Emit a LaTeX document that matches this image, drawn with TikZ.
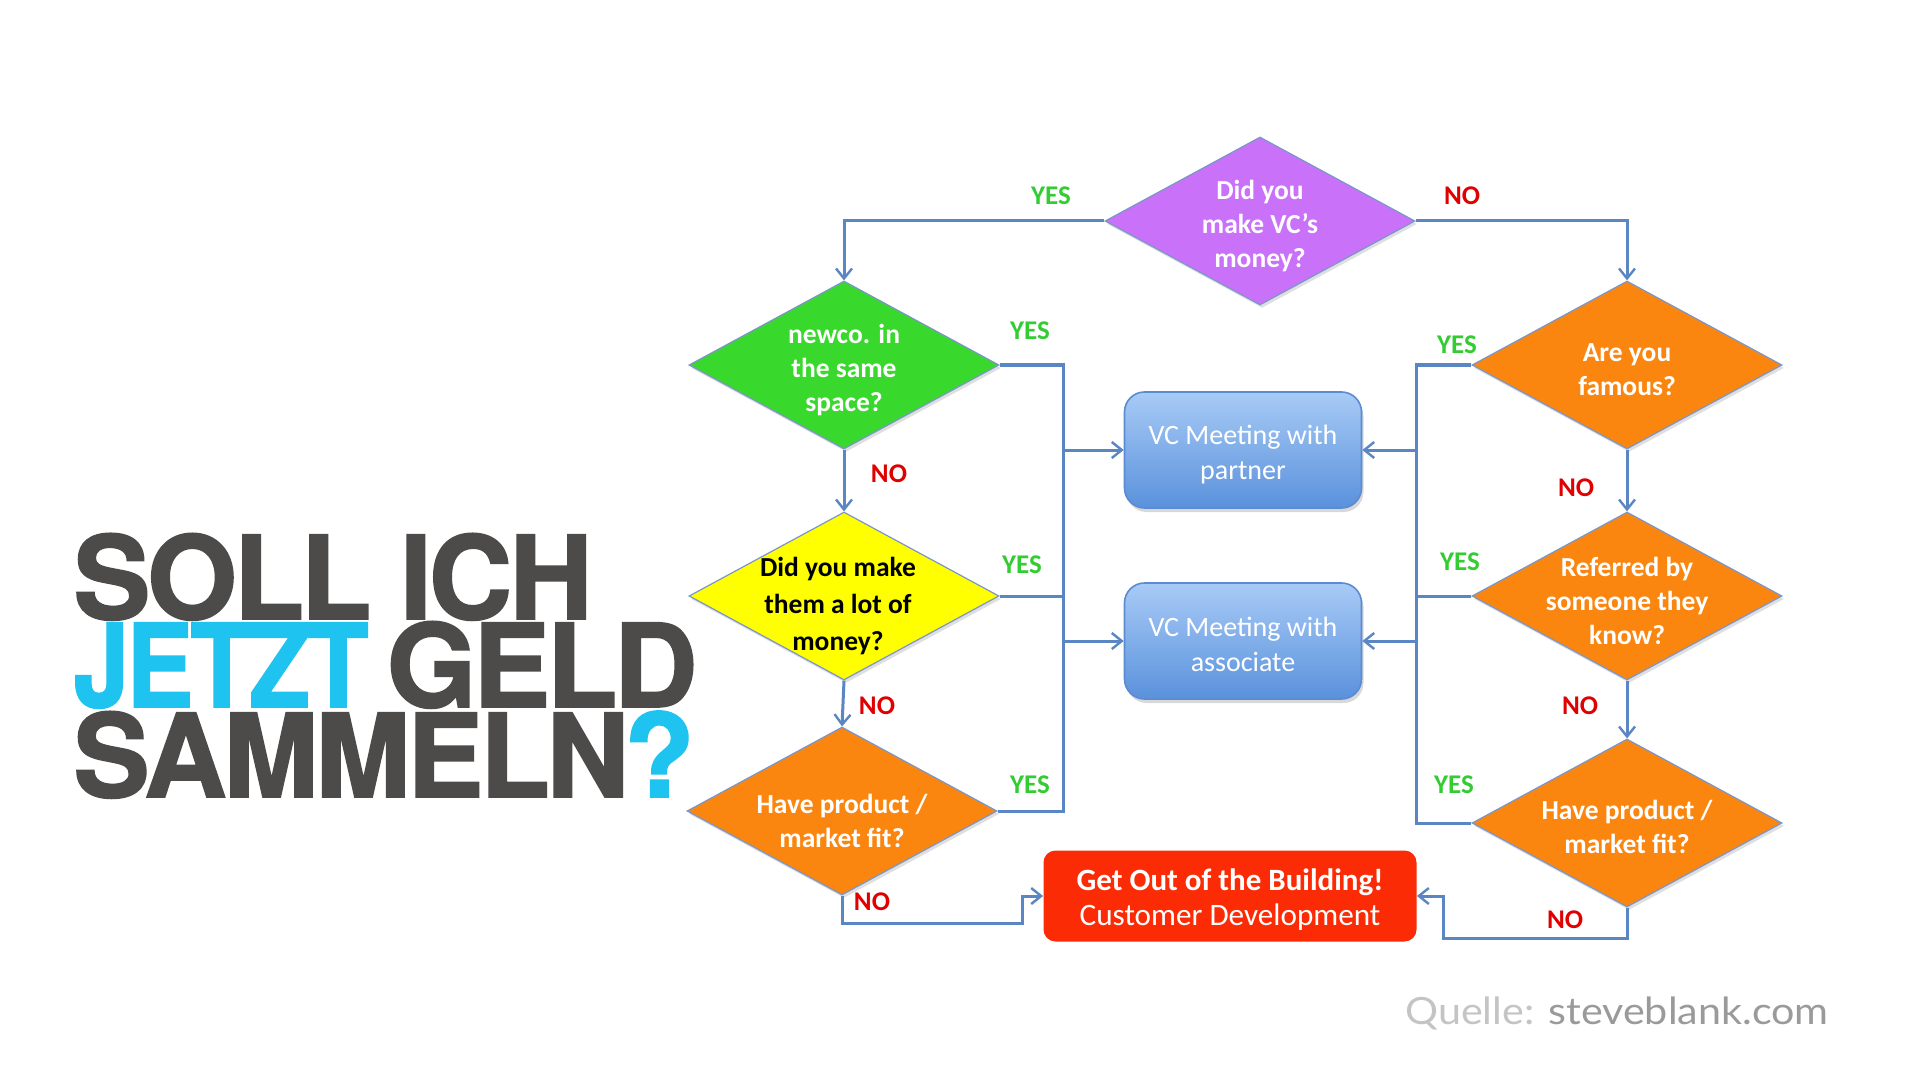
\documentclass[tikz,border=0pt]{standalone}
\usepackage{fontspec}
\setmainfont{Carlito}
\newfontfamily\titlefont{TeX Gyre Heros}[LetterSpace=-3, BoldFeatures={FakeBold=1.5}]
\newfontfamily\latofont{Lato}
\usetikzlibrary{shapes.geometric, arrows.meta, shadows}
\definecolor{linec}{HTML}{5A86C4}
\definecolor{diaborder}{HTML}{7A96C8}
\definecolor{cpurple}{HTML}{C972F9}
\definecolor{cgreen}{HTML}{38D92C}
\definecolor{cyellow}{HTML}{FFFF00}
\definecolor{corange}{HTML}{FA8610}
\definecolor{cred}{HTML}{FB2C05}
\definecolor{yesgreen}{HTML}{33CC33}
\definecolor{nored}{HTML}{E00000}
\definecolor{titlegray}{HTML}{4D4B4A}
\definecolor{titlecyan}{HTML}{1EC3F0}
\definecolor{boxtop}{HTML}{A8CBF6}
\definecolor{boxbot}{HTML}{5A91DC}
\definecolor{boxborder}{HTML}{5B8BD0}
\definecolor{qlight}{HTML}{C4C4C4}
\definecolor{qdark}{HTML}{9A9A9A}
\begin{document}
\begin{tikzpicture}[x=0.5pt,y=-0.5pt,
  conn/.style={draw=linec, line width=1.5pt},
  arr/.style={conn, -{Straight Barb[length=5pt,width=8pt,line width=1.2pt]}},
  dia/.style={diamond, draw=diaborder, line width=0.6pt, minimum width=155pt,
    minimum height=84pt, inner sep=0pt,
    drop shadow={opacity=0.25, shadow xshift=1pt, shadow yshift=-1.5pt}},
  dtext/.style={text=white, font=\bfseries\fontsize{13.75}{17}\selectfont, align=center, inner sep=0pt, yshift=-2.5pt},
  vcbox/.style={rounded corners=10pt, draw=boxborder, line width=0.8pt,
    top color=boxtop, bottom color=boxbot, minimum width=118.5pt, minimum height=58pt,
    text=white, align=center, font=\fontsize{14}{17.5}\selectfont,
    drop shadow={opacity=0.3, shadow xshift=1pt, shadow yshift=-2pt}},
  vctext/.style={text=white, align=center, font=\fontsize{14}{17.5}\selectfont, inner sep=0pt, yshift=-2.3pt},
  yes/.style={text=yesgreen, font=\bfseries\fontsize{13.5}{14}\selectfont, inner sep=0pt},
  no/.style={text=nored, font=\bfseries\fontsize{13.5}{14}\selectfont, inner sep=0pt},
  ttl/.style={anchor=base west, inner sep=0pt, text height=42pt, text depth=0pt,
    font=\titlefont\bfseries\fontsize{57.8}{60}\selectfont}
]
\fill[white] (0,0) rectangle (1920,1080);
\useasboundingbox (0,0) rectangle (1920,1080);

% title
\node[ttl, text=titlegray] (t1) at (73,619) {SOLL ICH};
\node[ttl] (t2) at (73,707) {\textcolor{titlecyan}{\scalebox{0.87}[1]{JETZT}}\hspace*{9pt}\textcolor{titlegray}{GELD}};
\node[ttl] (t3) at (73,797) {\textcolor{titlegray}{\scalebox{0.99}[1]{SAMMELN}}\hspace*{-2.5pt}\textcolor{titlecyan}{?}};

% diamonds
\node[dia, fill=cpurple, label={[dtext]center:{Did you\\make VC’s\\money?}}] (d1) at (1260,221) {};
\node[dia, fill=cgreen, label={[dtext]center:{newco. in\\the same\\space?}}] (d2) at (844,365) {};
\node[dia, fill=cyellow, label={[dtext, text=black, yshift=-2.5pt, xshift=-3pt, font=\bfseries\fontsize{13.75}{18.3}\selectfont]center:{Did you make\\them a lot of\\money?}}] (d3) at (844,596) {};
\node[dia, fill=corange, label={[dtext, yshift=-2.5pt]center:{Have product /\\market fit?}}] (d4) at (842,811) {};
\node[dia, fill=corange, label={[dtext]center:{Are you\\famous?}}] (d5) at (1627,365) {};
\node[dia, fill=corange, label={[dtext]center:{Referred by\\someone they\\know?}}] (d6) at (1627,596) {};
\node[dia, fill=corange, label={[dtext, yshift=0.5pt]center:{Have product /\\market fit?}}] (d7) at (1627,823) {};

% boxes
\node[vcbox, label={[vctext]center:{VC Meeting with\\partner}}] (p) at (1243,450) {};
\node[vcbox, label={[vctext, yshift=0.5pt]center:{VC Meeting with\\associate}}] (a) at (1243,641) {};
\node[rounded corners=6pt, fill=cred, minimum width=186.5pt, minimum height=45.5pt,
  inner sep=0pt] (r) at (1230,896) {};
\node[text=white, align=center, inner sep=0pt, yshift=-1.8pt] (rt1) at (r.center)
  {{\bfseries\fontsize{15.5}{19}\selectfont Get Out of the Building!}\\[3.5pt]
   {\fontsize{15.6}{19}\selectfont Customer Development}};

% coordinates
\coordinate (lt) at (1063,365);
\coordinate (lb) at (1063,811);
\coordinate (rt) at (1416,365);
\coordinate (rb) at (1416,823);
\coordinate (c1) at (1022,923);
\coordinate (c2) at (1443,938);

% connectors
\draw[arr] (d1.west) -| (d2.north);
\draw[arr] (d1.east) -| (d5.north);
\draw[arr] (d2.south) -- (d3.north);
\draw[arr] (d3.south) -- (d4.north);
\draw[arr] (d5.south) -- (d6.north);
\draw[arr] (d6.south) -- (d7.north);
\draw[conn] (d2.east) -- (lt) -- (lb) -- (d4.east);
\draw[conn] (d3.east) -- (d3.east -| lt);
\draw[arr] (lt |- p.west) -- (p.west);
\draw[arr] (lt |- a.west) -- (a.west);
\draw[conn] (d5.west) -- (rt) -- (rb) -- (d7.west);
\draw[conn] (d6.west) -- (d6.west -| rt);
\draw[arr] (rt |- p.east) -- (p.east);
\draw[arr] (rt |- a.east) -- (a.east);
\draw[arr] (d4.south) |- (c1) |- (r.west);
\draw[arr] (d7.south) |- (c2) |- (r.east);

% labels
\node[yes] (y1) at (1051,196) {YES};
\node[no]  (n1) at (1462,196) {NO};
\node[yes] (y2) at (1030,331) {YES};
\node[no]  (n2) at (889,474) {NO};
\node[yes] (y3) at (1022,565) {YES};
\node[no]  (n3) at (877,706) {NO};
\node[yes] (y4) at (1030,785) {YES};
\node[no]  (n4) at (872,902) {NO};
\node[yes] (y5) at (1457,345) {YES};
\node[no]  (n5) at (1576,488) {NO};
\node[yes] (y6) at (1460,562) {YES};
\node[no]  (n6) at (1580,706) {NO};
\node[yes] (y7) at (1454,785) {YES};
\node[no]  (n7) at (1565,920) {NO};

% source
\node[anchor=base west, inner sep=0pt, font=\latofont\fontsize{18.75}{20}\selectfont] (q) at (1405,1024)
  {\scalebox{1.1}[1]{\textcolor{qlight}{Quelle:} \textcolor{qdark}{steveblank.com}}};
\end{tikzpicture}
\end{document}
